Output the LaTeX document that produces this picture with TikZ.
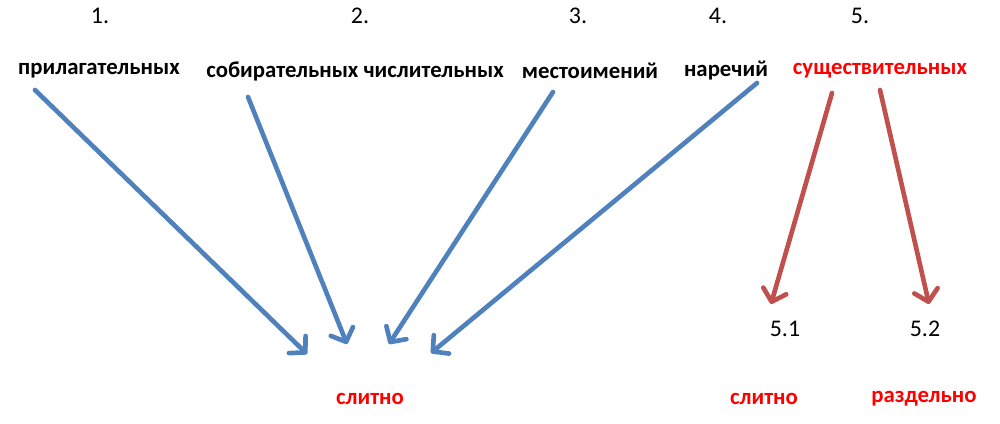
\documentclass[tikz,border=0pt]{standalone}
\usepackage{fontspec}
\setmainfont{Carlito}
\usepackage{xcolor}
\usetikzlibrary{arrows.meta}
\definecolor{arrowblue}{HTML}{4F81BD}
\definecolor{arrowred}{HTML}{C0504D}
\definecolor{textred}{HTML}{FF0000}
\tikzset{
  numlabel/.style={font=\fontsize{17}{20}\selectfont, inner sep=0pt},
  wordlabel/.style={font=\fontsize{16.2}{19}\selectfont\bfseries, inner sep=0pt},
  redword/.style={wordlabel, text=textred},
  bluearrow/.style={draw=arrowblue, line width=3.3pt, line cap=round,
    -{Straight Barb[length=8pt, width=17pt, line cap=round, line join=round]}},
  redarrow/.style={bluearrow, draw=arrowred}
}
\begin{document}
\begin{tikzpicture}[x=0.025cm, y=-0.025cm]
    \useasboundingbox (0,0) rectangle (1000,423);

    % Numbers
    \node[numlabel] (n1) at (100,16) {1.};
    \node[numlabel] (n2) at (360,16) {2.};
    \node[numlabel] (n3) at (578,16) {3.};
    \node[numlabel] (n4) at (718,16) {4.};
    \node[numlabel] (n5) at (860,16) {5.};

    % Parts of speech
    \node[wordlabel] (adj) at (99,71) {прилагательных};
    \node[wordlabel] (coll) at (355,71) {собирательных числительных};
    \node[wordlabel] (pron) at (590,71) {местоимений};
    \node[wordlabel] (adv) at (726,71) {наречий};
    \node[redword] (noun) at (880,71) {существительных};

    % Results
    \node[numlabel] (n51) at (785,329) {5.1};
    \node[numlabel] (n52) at (925,329) {5.2};
    \node[redword] (joint) at (370,399) {слитно};
    \node[redword] (joint2) at (764,399) {слитно};
    \node[redword] (apart) at (924,399) {раздельно};

    % Arrow ends
    \coordinate (t1) at (35,90);
    \coordinate (h1) at (307,354);
    \coordinate (t2) at (248,97);
    \coordinate (h2) at (347,344);
    \coordinate (t3) at (553,92);
    \coordinate (h3) at (389,344);
    \coordinate (t4) at (757,83);
    \coordinate (h4) at (431,353);
    \coordinate (t5) at (832,93);
    \coordinate (h5) at (771,304);
    \coordinate (t6) at (880,90);
    \coordinate (h6) at (929,304);

    % Arrows into "slitno"
    \draw[bluearrow] (t1) -- (h1);
    \draw[bluearrow] (t2) -- (h2);
    \draw[bluearrow] (t3) -- (h3);
    \draw[bluearrow] (t4) -- (h4);

    % Nouns split
    \draw[redarrow] (t5) -- (h5);
    \draw[redarrow] (t6) -- (h6);
\end{tikzpicture}
\end{document}
